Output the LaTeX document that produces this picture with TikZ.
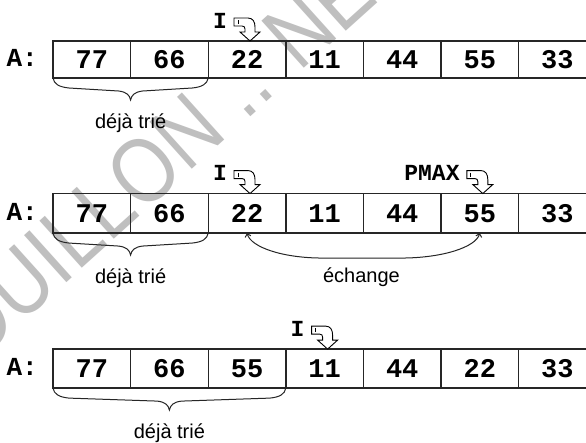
\documentclass[tikz,border=0pt]{standalone}
\usepackage{fontspec}
\setmainfont{Liberation Sans}
\newfontfamily\codefont{Liberation Mono}
\usetikzlibrary{arrows.meta,calc}

\tikzset{
  cell/.style={draw=black!85, line width=1.4pt, minimum width=77.6pt,
    inner sep=0pt, outer sep=0pt,
    font=\codefont\bfseries\fontsize{27}{30}\selectfont},
  arrname/.style={font=\codefont\bfseries\fontsize{26}{30}\selectfont, inner sep=0pt},
  ptrlabel/.style={font=\codefont\bfseries\fontsize{23}{26}\selectfont, inner sep=0pt},
  ptr/.style={draw=black, fill=white, line width=0.9pt, line join=miter},
  bline/.style={draw=black!85, line width=1pt},
  xline/.style={draw=black!85, line width=1pt,
    {Straight Barb[length=3pt,width=6pt]}-{Straight Barb[length=3pt,width=6pt]}},
  note/.style={font=\fontsize{20}{24}\selectfont, inner sep=0pt},
  wm/.style={font=\fontsize{92}{100}\selectfont, text=black!25, inner sep=0pt},
}

% hollow bent pointer above a cell, with its label (#2); #3 names the tip
\newcommand\pointer[3]{%
  \coordinate (#3) at ([shift={(3,0)}]#1.north);
  \begin{scope}[shift={(#3)}]
    \draw[ptr] (-16,-23) -- (-2,-23) .. controls (3,-23) and (5,-19) .. (5,-14)
      -- (5,-9) -- (10,-9) -- (0,0) -- (-10,-9) -- (-5,-9) -- (-5,-12)
      .. controls (-5,-14) and (-6,-15) .. (-8,-15) -- (-16,-15) -- cycle;
    \draw[ptr] (-12,-21) -- (-12,-17);
  \end{scope}
  \node[ptrlabel, anchor=base east] (#3lbl) at ([shift={(-23,-13)}]#3) {#2};
}

% curly brace hanging below the segment from #1 to #2; #3 names its middle
\newcommand\sortbrace[3]{%
  \coordinate (#3) at ($(#1)!0.5!(#2)$);
  \draw[bline] (#1) .. controls ([shift={(1,6)}]#1) and ([shift={(6,9)}]#1) .. ([shift={(16,10)}]#1)
    -- ([shift={(-12,13)}]#3) .. controls ([shift={(-4,14)}]#3) and ([shift={(-1,17)}]#3) .. ([shift={(0,22)}]#3)
    .. controls ([shift={(1,17)}]#3) and ([shift={(4,14)}]#3) .. ([shift={(12,13)}]#3)
    -- ([shift={(-16,10)}]#2) .. controls ([shift={(-6,9)}]#2) and ([shift={(-1,6)}]#2) .. (#2);
}

\begin{document}
\begin{tikzpicture}[x=1pt, y=-1pt]
  \useasboundingbox (0,0) rectangle (586,442);
  \fill[white] (0,0) rectangle (586,442);
  \clip (0,0) rectangle (586,442);

  % watermark
  \begin{scope}[shift={(245.5,121.4)}, rotate=42, xscale=0.85, transform shape]
    \node[wm, anchor=base west] (wmtail) at (0,0) {.. NE};
    \node[wm, anchor=base east] (wmhead) at (-25.6,0) {BROUILLON};
  \end{scope}

  % row 1
  \foreach \v [count=\i] in {77,66,22,11,44,55,33}
    \node[cell, minimum height=37pt] (r1c\i) at ({53+77.6*(\i-0.5)}, 59.5) {\v};
  \node[arrname, anchor=base east] (a1) at ([shift={(-15,7)}]r1c1.west) {A:};
  \pointer{r1c3}{I}{p1}
  \sortbrace{r1c1.south west}{r1c2.south east}{b1}
  \node[note, anchor=base] (t1) at ([shift={(0,50)}]b1) {déjà trié};

  % row 2
  \foreach \v [count=\i] in {77,66,22,11,44,55,33}
    \node[cell, minimum height=39.5pt] (r2c\i) at ({53+77.6*(\i-0.5)}, 213.3) {\v};
  \node[arrname, anchor=base east] (a2) at ([shift={(-15,7)}]r2c1.west) {A:};
  \pointer{r2c3}{I}{p2}
  \pointer{r2c6}{PMAX}{p3}
  \sortbrace{r2c1.south west}{r2c2.south east}{b2}
  \node[note, anchor=base] (t2) at ([shift={(0,50)}]b2) {déjà trié};
  \draw[xline] (r2c3.south) .. controls ([shift={(4,14)}]r2c3.south) and ([shift={(35,25)}]r2c3.south)
    .. ([shift={(76,25)}]r2c3.south) -- ([shift={(-79,25)}]r2c6.south)
    .. controls ([shift={(-37,25)}]r2c6.south) and ([shift={(-4,14)}]r2c6.south) .. (r2c6.south);
  \coordinate (xm) at ($(r2c3.south)!0.5!(r2c6.south)$);
  \node[note, anchor=base] (t3) at ([shift={(-2,49)}]xm) {échange};

  % row 3
  \foreach \v [count=\i] in {77,66,55,11,44,22,33}
    \node[cell, minimum height=39pt] (r3c\i) at ({53+77.6*(\i-0.5)}, 368.6) {\v};
  \node[arrname, anchor=base east] (a3) at ([shift={(-15,7)}]r3c1.west) {A:};
  \pointer{r3c4}{I}{p4}
  \sortbrace{r3c1.south west}{r3c3.south east}{b3}
  \node[note, anchor=base] (t4) at ([shift={(0,50)}]b3) {déjà trié};
\end{tikzpicture}
\end{document}
